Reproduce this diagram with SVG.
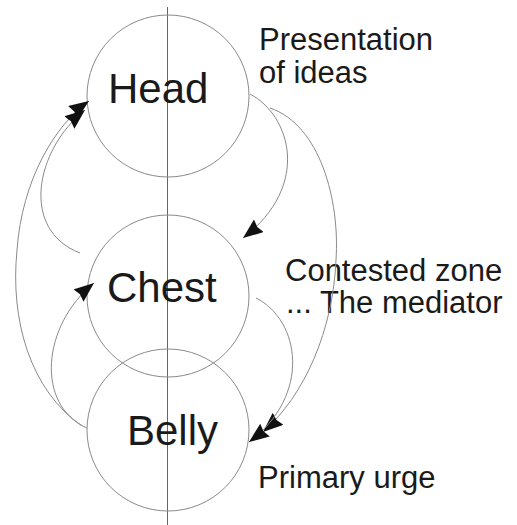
<svg xmlns="http://www.w3.org/2000/svg" width="517" height="525" viewBox="0 0 517 525">
<defs>
<style>
.node{fill:none;stroke:#8a8a8a;stroke-width:1}
.big{font-family:"Liberation Sans",Arial,sans-serif;font-size:42px;fill:#1a1a1a}
.lbl{font-family:"Liberation Sans",Arial,sans-serif;font-size:31px;fill:#1a1a1a}
.conn{fill:none;stroke:#8a8a8a;stroke-width:1}
.axis{stroke:#666;stroke-width:1}
</style>
<marker id="ah" markerUnits="userSpaceOnUse" markerWidth="24" markerHeight="18" refX="20" refY="8" orient="auto">
<path d="M0,0 L20,8 L0,16 L2,8 z" fill="#111"/>
</marker>
</defs>
<rect width="517" height="525" fill="#fff"/>
<line class="axis" x1="167.5" y1="7" x2="167.5" y2="525"/>
<g id="head">
<circle class="node" cx="168" cy="96" r="81"/>
<text class="big" x="108" y="103">Head</text>
</g>
<g id="chest">
<circle class="node" cx="168" cy="296" r="81"/>
<text class="big" x="107" y="302">Chest</text>
</g>
<g id="belly">
<circle class="node" cx="168" cy="430" r="81"/>
<text class="big" x="127" y="445">Belly</text>
</g>
<g id="label-head">
<text class="lbl" x="259" y="50">Presentation</text>
<text class="lbl" x="259" y="83">of ideas</text>
</g>
<g id="label-chest">
<text class="lbl" x="285" y="281">Contested zone</text>
<text class="lbl" x="286" y="313">... The mediator</text>
</g>
<g id="label-belly">
<text class="lbl" x="258" y="488">Primary urge</text>
</g>
<g id="connectors">
<path class="conn" marker-end="url(#ah)" d="M250,94 C290,115 312,185 243,238"/>
<path class="conn" marker-end="url(#ah)" d="M270,108 C320,125 340,200 336,260 C333,330 305,395 263,432"/>
<path class="conn" marker-end="url(#ah)" d="M256,298 C300,320 312,395 249,442"/>
<path class="conn" marker-end="url(#ah)" d="M82,426 C30,390 10,320 17,250 C22,180 55,125 89,101"/>
<path class="conn" marker-end="url(#ah)" d="M80,253 C20,230 35,150 85,110"/>
<path class="conn" marker-end="url(#ah)" d="M87,428 C35,405 42,325 94,283"/>
</g>
</svg>
